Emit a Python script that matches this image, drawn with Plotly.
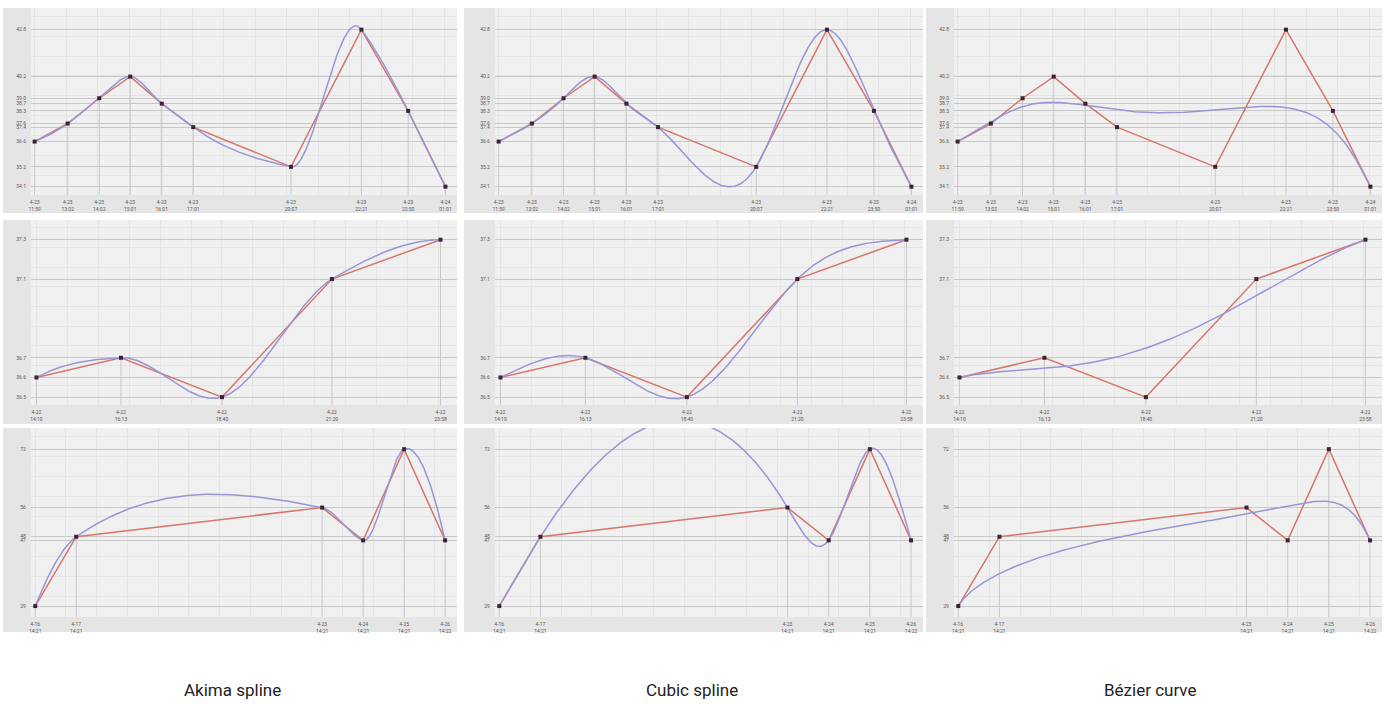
import numpy as np
import pandas as pd
import plotly.graph_objects as go
from math import comb

# ---------------- data ----------------
times1 = ["2023-04-23 11:59", "2023-04-23 13:02", "2023-04-23 14:02", "2023-04-23 15:01",
          "2023-04-23 16:01", "2023-04-23 17:01", "2023-04-23 20:07", "2023-04-23 22:21",
          "2023-04-23 23:50", "2023-04-24 01:01"]
vals1 = [36.6, 37.6, 39.0, 40.2, 38.7, 37.4, 35.2, 42.8, 38.3, 34.1]

times2 = ["2023-04-22 14:10", "2023-04-22 16:13", "2023-04-22 18:40", "2023-04-22 21:20",
          "2023-04-22 23:58"]
vals2 = [36.6, 36.7, 36.5, 37.1, 37.3]

times3 = ["2023-04-16 14:21", "2023-04-17 14:21", "2023-04-23 14:21", "2023-04-24 14:21",
          "2023-04-25 14:21", "2023-04-26 14:22"]
vals3 = [29, 48, 56, 47, 72, 47]

method_titles = ["Akima spline", "Cubic spline", "Bézier curve"]

# ---------------- interpolation helpers ----------------
def hermite(x, y, d, xs):
    idx = np.clip(np.searchsorted(x, xs, side="right") - 1, 0, len(x) - 2)
    h = x[idx + 1] - x[idx]
    s = (xs - x[idx]) / h
    h00 = 2 * s**3 - 3 * s**2 + 1
    h10 = s**3 - 2 * s**2 + s
    h01 = -2 * s**3 + 3 * s**2
    h11 = s**3 - s**2
    return h00 * y[idx] + h10 * h * d[idx] + h01 * y[idx + 1] + h11 * h * d[idx + 1]

def akima(x, y, xs):
    x = np.asarray(x, float); y = np.asarray(y, float)
    n = len(x)
    m = np.diff(y) / np.diff(x)
    mm = np.empty(n + 3)
    mm[2:n + 1] = m
    mm[1] = 2 * mm[2] - mm[3]
    mm[0] = 2 * mm[1] - mm[2]
    mm[n + 1] = 2 * mm[n] - mm[n - 1]
    mm[n + 2] = 2 * mm[n + 1] - mm[n]
    t = np.empty(n)
    for i in range(n):
        w1 = abs(mm[i + 3] - mm[i + 2]); w2 = abs(mm[i + 1] - mm[i])
        if w1 + w2 < 1e-12:
            t[i] = 0.5 * (mm[i + 1] + mm[i + 2])
        else:
            t[i] = (w1 * mm[i + 1] + w2 * mm[i + 2]) / (w1 + w2)
    return hermite(x, y, t, xs)

def natural_cubic(x, y, xs):
    x = np.asarray(x, float); y = np.asarray(y, float)
    n = len(x)
    h = np.diff(x)
    A = np.zeros((n, n)); b = np.zeros(n)
    A[0, 0] = 1; A[-1, -1] = 1
    for i in range(1, n - 1):
        A[i, i - 1] = h[i - 1]; A[i, i] = 2 * (h[i - 1] + h[i]); A[i, i + 1] = h[i]
        b[i] = 6 * ((y[i + 1] - y[i]) / h[i] - (y[i] - y[i - 1]) / h[i - 1])
    M = np.linalg.solve(A, b)
    idx = np.clip(np.searchsorted(x, xs, side="right") - 1, 0, n - 2)
    hi = h[idx]; a = x[idx + 1] - xs; c = xs - x[idx]
    return (M[idx] * a**3 / (6 * hi) + M[idx + 1] * c**3 / (6 * hi)
            + (y[idx] / hi - M[idx] * hi / 6) * a + (y[idx + 1] / hi - M[idx + 1] * hi / 6) * c)

def bezier(x, y, npts=400):
    x = np.asarray(x, float); y = np.asarray(y, float)
    n = len(x) - 1
    t = np.linspace(0, 1, npts)
    bx = np.zeros(npts); by = np.zeros(npts)
    for i in range(n + 1):
        c = comb(n, i) * (1 - t) ** (n - i) * t ** i
        bx += c * x[i]; by += c * y[i]
    return bx, by

# ---------------- layout geometry (pixels) ----------------
W, H = 1391, 704
col_panel_left = [0, 462, 925]
col_plot = [(28, 455), (493, 922), (953, 1382)]
row_plot = [(8, 195), (220, 405), (428, 617)]
row_strip_bottom = [213, 424, 632]

row_xrange = [["2023-04-23 11:52", "2023-04-24 01:23"],
              ["2023-04-22 14:02", "2023-04-23 00:22"],
              ["2023-04-16 11:50", "2023-04-26 21:20"]]
row_yrange = [[33.64, 44.0], [36.46, 37.40], [26.0, 77.8]]
row_minor_x = [3600000, 2700000, 64800000]
row_minor_y = [1.1, 0.1, 5.5]
row_fmt = ["{:.1f}", "{:.1f}", "{:.0f}"]

datasets = [(times1, vals1), (times2, vals2), (times3, vals3)]

RED = "rgb(214,118,108)"
BLUE = "rgb(150,150,214)"
MARK = "rgb(60,35,50)"
GRID = "rgb(200,200,200)"
MINOR = "rgb(228,228,228)"
STRIP = "rgb(229,229,229)"

fig = go.Figure()
shapes = []

def px2x(p):
    return p / W

def px2y(p):
    return 1 - p / H

for r, (times, vals) in enumerate(datasets):
    t = pd.to_datetime(pd.Series(times))
    t0 = t.iloc[0]
    hrs = ((t - t0) / pd.Timedelta(hours=1)).to_numpy()
    y = np.asarray(vals, float)
    xs = np.linspace(hrs[0], hrs[-1], 600)
    curves = [
        (xs, akima(hrs, y, xs)),
        (xs, natural_cubic(hrs, y, xs)),
        bezier(hrs, y),
    ]
    ticktext = [f"{d.month}-{d.day:02d}<br>{d.hour:02d}:{d.minute:02d}" for d in t]
    for c in range(3):
        k = r * 3 + c + 1
        xa = "x" if k == 1 else f"x{k}"
        ya = "y" if k == 1 else f"y{k}"
        cx, cy = curves[c]
        cxt = t0 + pd.to_timedelta(cx, unit="h")
        dx, dy = [], []
        for ti, vi in zip(t, y):
            dx += [ti, ti, None]
            dy += [vi, row_yrange[r][0], None]
        fig.add_trace(go.Scatter(x=dx, y=dy, mode="lines", xaxis=xa, yaxis=ya,
                                 line=dict(color=GRID, width=1), hoverinfo="skip",
                                 showlegend=False))
        fig.add_trace(go.Scatter(x=t, y=y, mode="lines", xaxis=xa, yaxis=ya,
                                 line=dict(color=RED, width=1.5), showlegend=False))
        fig.add_trace(go.Scatter(x=cxt, y=cy, mode="lines", xaxis=xa, yaxis=ya,
                                 line=dict(color=BLUE, width=1.5), showlegend=False))
        fig.add_trace(go.Scatter(x=t, y=y, mode="markers", xaxis=xa, yaxis=ya,
                                 marker=dict(color=MARK, size=4, symbol="square"),
                                 showlegend=False))
        x0p, x1p = col_plot[c]
        y0p, y1p = row_plot[r]
        xkey = "xaxis" if k == 1 else f"xaxis{k}"
        ykey = "yaxis" if k == 1 else f"yaxis{k}"
        yt = sorted(set(vals))
        fig.update_layout(**{
            xkey: dict(domain=[px2x(x0p), px2x(x1p)], anchor=ya, type="date",
                       range=row_xrange[r], tickmode="array", tickvals=list(t),
                       ticktext=ticktext, showgrid=False, zeroline=False,
                       showline=False, ticks="", tickfont=dict(size=5, color="#555"),
                       ticklabelstandoff=3, fixedrange=True, tickangle=0,
                       minor=dict(dtick=row_minor_x[r], showgrid=True, gridcolor=MINOR,
                                  gridwidth=1, tick0=times[0])),
            ykey: dict(domain=[px2y(y1p), px2y(y0p)], anchor=xa, range=row_yrange[r],
                       tickmode="array", tickvals=yt,
                       ticktext=[row_fmt[r].format(v) for v in yt],
                       showgrid=True, gridcolor=GRID, gridwidth=1, zeroline=False,
                       showline=False, ticks="", tickfont=dict(size=5, color="#555"),
                       ticklabelstandoff=4, fixedrange=True, tickangle=0,
                       minor=dict(dtick=row_minor_y[r], showgrid=True, gridcolor=MINOR,
                                  gridwidth=1, tick0=row_yrange[r][0])),
        })
        pl = col_panel_left[c]
        shapes.append(dict(type="rect", xref="paper", yref="paper", layer="below",
                           x0=px2x(pl), x1=px2x(x0p), y0=px2y(row_strip_bottom[r]), y1=px2y(y0p),
                           fillcolor=STRIP, line=dict(width=0)))
        shapes.append(dict(type="rect", xref="paper", yref="paper", layer="below",
                           x0=px2x(x0p), x1=px2x(x1p), y0=px2y(row_strip_bottom[r]), y1=px2y(y1p),
                           fillcolor=STRIP, line=dict(width=0)))

annotations = []
title_x = [230, 690, 1150]
for c in range(3):
    annotations.append(dict(text=method_titles[c], x=px2x(title_x[c]), y=px2y(690),
                            xref="paper", yref="paper", showarrow=False,
                            xanchor="center", yanchor="middle",
                            font=dict(family="Roboto", size=17, color="#222")))

fig.update_layout(width=W, height=H, margin=dict(l=0, r=0, t=0, b=0),
                  paper_bgcolor="white", plot_bgcolor="rgb(240,240,240)",
                  shapes=shapes, annotations=annotations, showlegend=False,
                  font=dict(family="Roboto"))

fig.write_html("out.html", config={"displayModeBar": False},
               post_script="document.body.style.margin='0px';document.body.style.overflow='hidden';")
